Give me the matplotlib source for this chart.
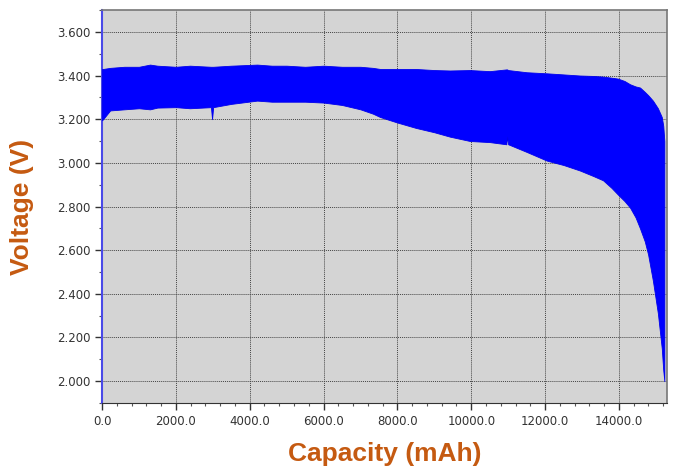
import matplotlib.pyplot as plt
import numpy as np

# envelope of the discharge trace
capacity = [0, 30, 220, 600, 1000, 1300, 1500, 2000, 2380, 2950, 2980, 3010, 3500, 4200, 4600,
            5000, 5500, 6000, 6500, 7000, 7340, 7530, 7990, 8500, 9000, 9420, 9965,
            10500, 10950, 10970, 11000, 11500, 12050, 12500, 12940, 13300, 13570, 13800,
            13970, 14150, 14300, 14450, 14570, 14700, 14790, 14920, 15055, 15160, 15200, 15230]
upper = [3.43, 3.43, 3.435, 3.44, 3.44, 3.45, 3.445, 3.44, 3.445, 3.44, 3.44, 3.44, 3.445, 3.45, 3.445,
         3.445, 3.44, 3.445, 3.44, 3.44, 3.435, 3.43, 3.43, 3.43, 3.425, 3.423, 3.425,
         3.42, 3.428, 3.428, 3.425, 3.415, 3.41, 3.405, 3.40, 3.398, 3.395, 3.39,
         3.386, 3.375, 3.36, 3.35, 3.345, 3.325, 3.31, 3.285, 3.25, 3.21, 3.17, 3.10]
lower = [3.195, 3.20, 3.24, 3.245, 3.25, 3.245, 3.253, 3.255, 3.25, 3.255, 3.20, 3.255, 3.27, 3.285, 3.28,
         3.28, 3.28, 3.276, 3.265, 3.245, 3.225, 3.21, 3.185, 3.16, 3.14, 3.12, 3.10,
         3.095, 3.085, 3.12, 3.085, 3.05, 3.01, 2.99, 2.965, 2.94, 2.92, 2.885,
         2.855, 2.825, 2.795, 2.75, 2.70, 2.64, 2.58, 2.46, 2.31, 2.15, 2.05, 2.0]

x_ticks = [0, 2000, 4000, 6000, 8000, 10000, 12000, 14000]
x_labels = ["0.0", "2000.0", "4000.0", "6000.0", "8000.0", "10000.0", "12000.0", "14000.0"]
y_ticks = [2.0, 2.2, 2.4, 2.6, 2.8, 3.0, 3.2, 3.4, 3.6]
y_labels = ["2.000", "2.200", "2.400", "2.600", "2.800", "3.000", "3.200", "3.400", "3.600"]

fig = plt.figure(figsize=(6.73, 4.68), dpi=100)
ax = fig.add_axes([0.1516, 0.1389, 0.991 - 0.1516, 0.9786 - 0.1389])
ax.set_facecolor("#d4d4d4")

ax.fill_between(capacity, lower, upper, color="#0000ff", linewidth=0.6, edgecolor="#0000ee", zorder=3)

ax.set_xlim(0, 15300)
ax.set_ylim(1.9, 3.7)
ax.set_xticks(x_ticks)
ax.set_xticklabels(x_labels)
ax.set_yticks(y_ticks)
ax.set_yticklabels(y_labels)
ax.set_xticks(np.arange(0, 15300, 400), minor=True)
ax.set_yticks(np.arange(1.9, 3.71, 0.1), minor=True)
ax.tick_params(axis="both", which="major", direction="out", length=5, width=1,
               labelsize=8.5, labelcolor="#333333", color="#333333")
ax.tick_params(axis="both", which="minor", direction="out", length=2.5, width=0.8, color="#555555")

ax.grid(True, which="major", linestyle=(0, (1, 1)), color="#444444", linewidth=0.7, zorder=1)
ax.set_axisbelow(True)

for side in ["top", "right"]:
    ax.spines[side].set_color("#777777")
    ax.spines[side].set_linewidth(1.2)
ax.spines["bottom"].set_color("#333333")
ax.spines["left"].set_color("#4a4ae8")
ax.spines["left"].set_linewidth(1.5)

label_color = "#c55a11"
ax.set_xlabel("Capacity (mAh)", fontsize=19, fontweight="bold", color=label_color,
              family=["Liberation Sans", "DejaVu Sans"], labelpad=10)
ax.set_ylabel("Voltage (V)", fontsize=19, fontweight="bold", color=label_color,
              family=["Liberation Sans", "DejaVu Sans"], labelpad=16)

fig.savefig("out.png", dpi=100)
